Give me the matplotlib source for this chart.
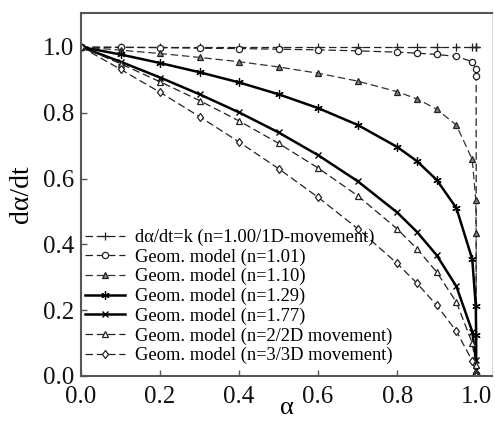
import matplotlib
matplotlib.use("Agg")
import matplotlib.pyplot as plt

plt.rcParams['font.family'] = ['Liberation Serif', 'DejaVu Serif']
plt.rcParams['mathtext.fontset'] = 'stix'

alpha = [0, 0.1, 0.2, 0.3, 0.4, 0.5, 0.6, 0.7, 0.8, 0.85, 0.9, 0.95, 0.99, 0.999, 0.9999, 1.0]

rate_n100 = [1.0, 1.0, 1.0, 1.0, 1.0, 1.0, 1.0, 1.0, 1.0, 1.0, 1.0, 1.0, 1.0, 1.0, 1.0, 1.0]
rate_n101 = [1.0, 0.999, 0.998, 0.996, 0.995, 0.993, 0.991, 0.988, 0.984, 0.981, 0.977, 0.971, 0.955, 0.934, 0.913, 0.0]
rate_n110 = [1.0, 0.990, 0.980, 0.968, 0.955, 0.939, 0.920, 0.896, 0.864, 0.842, 0.811, 0.762, 0.658, 0.534, 0.433, 0.0]
rate_n129 = [1.0, 0.977, 0.951, 0.923, 0.892, 0.856, 0.814, 0.763, 0.696, 0.653, 0.596, 0.510, 0.355, 0.212, 0.126, 0.0]
rate_n177 = [1.0, 0.955, 0.907, 0.856, 0.801, 0.740, 0.671, 0.592, 0.497, 0.438, 0.367, 0.272, 0.135, 0.050, 0.018, 0.0]
rate_n2 = [1.0, 0.949, 0.894, 0.837, 0.775, 0.707, 0.632, 0.548, 0.447, 0.387, 0.316, 0.224, 0.100, 0.032, 0.010, 0.0]
rate_n3 = [1.0, 0.932, 0.862, 0.788, 0.711, 0.630, 0.543, 0.448, 0.342, 0.282, 0.215, 0.136, 0.046, 0.010, 0.002, 0.0]

labels = ['dα/dt=k (n=1.00/1D-movement)',
          'Geom. model (n=1.01)',
          'Geom. model (n=1.10)',
          'Geom. model (n=1.29)',
          'Geom. model (n=1.77)',
          'Geom. model (n=2/2D movement)',
          'Geom. model (n=3/3D movement)']

fig = plt.figure(figsize=(4.95, 4.22), dpi=100)
ax = fig.add_axes([81/495, 1-376/422, (492-81)/495, (376-13)/422])

dash = (6, 3)
ax.plot(alpha, rate_n100, color='#222222', lw=0.9, dashes=dash, marker='+', ms=6, mew=0.9, label=labels[0])
ax.plot(alpha, rate_n101, color='#222222', lw=0.9, dashes=dash, marker='o', ms=4.5, mfc='white', mew=0.9, label=labels[1])
ax.plot(alpha, rate_n110, color='#333333', lw=0.9, dashes=dash, marker='^', ms=5, mfc='#808080', mec='#222222', mew=0.9, label=labels[2])
ax.plot(alpha, rate_n129, color='black', lw=1.8, marker=(6, 2, 0), ms=6, mew=0.9, label=labels[3])
ax.plot(alpha, rate_n177, color='black', lw=1.8, marker='x', ms=5, mew=1.0, label=labels[4])
ax.plot(alpha, rate_n2, color='#222222', lw=0.9, dashes=dash, marker='^', ms=5, mfc='white', mew=0.9, label=labels[5])
ax.plot(alpha, rate_n3, color='#222222', lw=0.9, dashes=dash, marker='d', ms=4.5, mfc='white', mew=0.9, label=labels[6])

ax.set_xlim(0, 1.04)
ax.set_ylim(0, 1.103)
ax.set_xticks([0.0, 0.2, 0.4, 0.6, 0.8, 1.0])
ax.set_yticks([0.0, 0.2, 0.4, 0.6, 0.8, 1.0])
ax.set_xticklabels(['0.0', '0.2', '0.4', '0.6', '0.8', '1.0'])
ax.set_yticklabels(['0.0', '0.2', '0.4', '0.6', '0.8', '1.0'])
ax.tick_params(direction='in', length=4, width=1, labelsize=18, colors='#555555', labelcolor='#111111')
ax.tick_params(axis='x', pad=7)
ax.tick_params(axis='y', pad=5)

for s in ['left', 'bottom', 'top']:
    ax.spines[s].set_color('#555555')
    ax.spines[s].set_linewidth(1.5)
ax.spines['right'].set_color('#dddddd')
ax.spines['right'].set_linewidth(1.0)

ax.set_xlabel('α', fontsize=19, labelpad=-8)
ax.set_ylabel('dα/dt', fontsize=20, labelpad=6)

leg = ax.legend(loc='lower left', bbox_to_anchor=(0.0, 0.022), fontsize=13.3, frameon=False,
                handlelength=2.2, handletextpad=0.55, labelspacing=0.13,
                borderpad=0.1, borderaxespad=0.1)

fig.savefig('out.png', dpi=100)
